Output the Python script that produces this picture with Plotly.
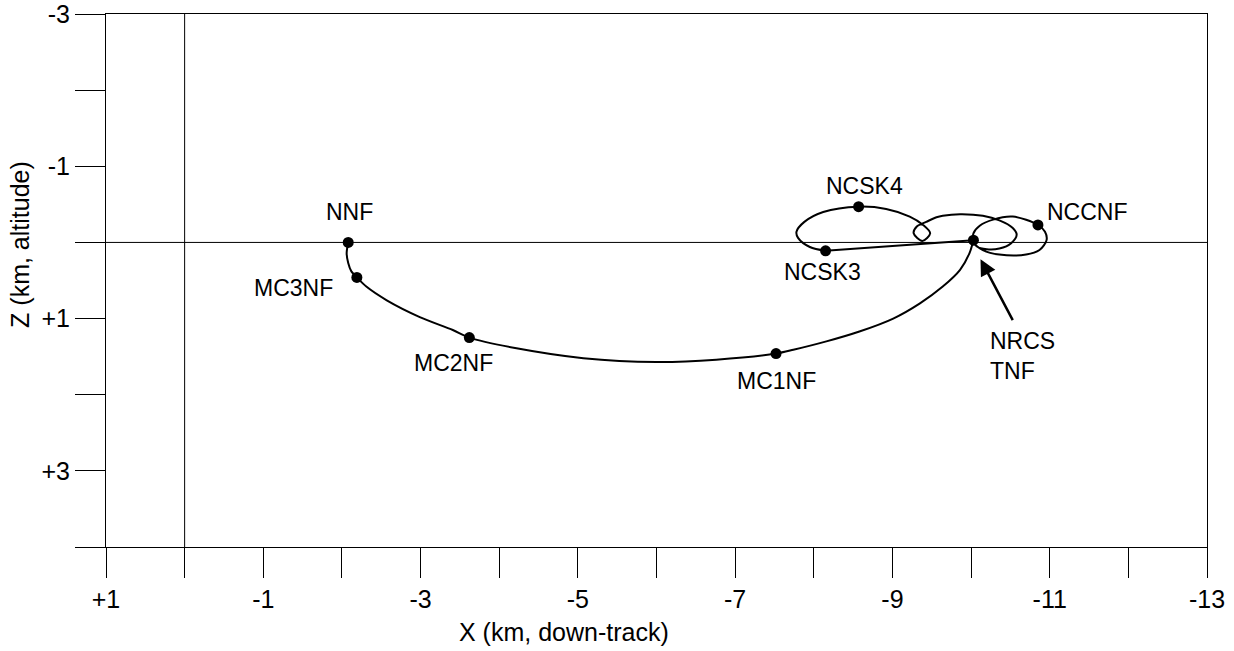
import plotly.graph_objects as go

# Named maneuver points (X km down-track, Z km altitude; +Z is down)
pt_names = ["NNF", "MC3NF", "MC2NF", "MC1NF", "TNF", "NCSK3", "NCSK4", "NCCNF"]
pt_x = [-2.08, -2.19, -3.62, -7.52, -10.03, -8.15, -8.57, -10.85]
pt_z = [0.0, 0.46, 1.25, 1.46, -0.03, 0.11, -0.47, -0.23]

# Transfer arc NNF -> TNF
arc_x = [-2.08, -2.06, -2.08, -2.12, -2.19, -2.31, -2.57, -2.99, -3.41, -3.62, -4.22, -5.07,
         -6.00, -6.76, -7.52, -7.74, -8.16, -8.58, -9.01, -9.35, -9.64, -9.86, -9.98, -10.03]
arc_z = [0.0, 0.14, 0.27, 0.38, 0.46, 0.58, 0.76, 0.98, 1.15, 1.25, 1.39, 1.52,
         1.57, 1.54, 1.46, 1.41, 1.30, 1.17, 1.00, 0.80, 0.58, 0.36, 0.14, -0.03]

# Straight leg TNF -> NCSK3
leg_x = [-10.03, -8.15]
leg_z = [-0.03, 0.11]

# Loops NCSK3 -> NCSK4 -> ... -> NCCNF -> TNF
loop_x = [-8.15, -7.95, -7.80, -7.78, -7.88, -8.12, -8.57, -8.92, -9.22, -9.39,
          -9.48, -9.38, -9.27, -9.31, -9.43, -9.56, -9.64, -9.86, -10.15, -10.36,
          -10.53, -10.58, -10.51, -10.36, -10.20, -10.07, -10.03, -10.03, -10.11, -10.28,
          -10.53, -10.85, -10.94, -10.96, -10.87, -10.70, -10.36, -10.15, -10.04, -10.03]
loop_z = [0.11, 0.06, -0.06, -0.14, -0.27, -0.40, -0.47, -0.44, -0.34, -0.23,
          -0.12, -0.02, -0.12, -0.21, -0.27, -0.33, -0.35, -0.37, -0.35, -0.29,
          -0.19, -0.10, 0.01, 0.08, 0.09, 0.05, -0.03, -0.12, -0.22, -0.30,
          -0.34, -0.23, -0.14, -0.03, 0.10, 0.16, 0.16, 0.10, 0.01, -0.03]

# Label positions
lbl_text = ["NNF", "MC3NF", "MC2NF", "MC1NF", "NCSK4", "NCSK3", "NCCNF"]
lbl_x = [-2.10, -1.39, -3.42, -7.52, -8.64, -8.11, -11.48]
lbl_z = [-0.40, 0.60, 1.58, 1.82, -0.74, 0.39, -0.40]

x_ticks = list(range(1, -14, -1))
x_ticktext = [("+%d" % v if v > 0 else "%d" % v) if v % 2 != 0 else "" for v in x_ticks]
y_ticks = list(range(-3, 5))
y_ticktext = [("+%d" % v if v > 0 else "%d" % v) if v % 2 != 0 else "" for v in y_ticks]

x_title = "X (km, down-track)"
y_title = "Z (km, altitude)"

FONT = "Liberation Sans, Arial, sans-serif"
LBL = 23
TICK = 25

fig = go.Figure()
line_style = dict(color="black", width=2)
fig.add_trace(go.Scatter(x=arc_x, y=arc_z, mode="lines",
                         line=dict(shape="spline", smoothing=0.8, **line_style),
                         hoverinfo="skip", showlegend=False))
fig.add_trace(go.Scatter(x=leg_x, y=leg_z, mode="lines", line=line_style,
                         hoverinfo="skip", showlegend=False))
fig.add_trace(go.Scatter(x=loop_x, y=loop_z, mode="lines",
                         line=dict(shape="spline", smoothing=0.9, **line_style),
                         hoverinfo="skip", showlegend=False))
fig.add_trace(go.Scatter(x=pt_x, y=pt_z, mode="markers", text=pt_names,
                         marker=dict(color="black", size=11), showlegend=False))

for t, x, z in zip(lbl_text, lbl_x, lbl_z):
    fig.add_annotation(x=x, y=z, text=t, showarrow=False,
                       font=dict(family=FONT, size=LBL, color="black"))

fig.add_annotation(x=-10.22, y=1.49, text="NRCS<br>TNF", showarrow=False, align="left",
                   xanchor="left", yanchor="middle",
                   font=dict(family=FONT, size=LBL, color="black"))
fig.add_annotation(x=-10.12, y=0.22, ax=-10.54, ay=1.04, axref="x", ayref="y",
                   text="", showarrow=True, arrowhead=2, arrowsize=1.3, arrowwidth=2.5,
                   arrowcolor="black")

# Axis titles
fig.add_annotation(xref="paper", yref="paper", x=0.416, y=-0.16, text=x_title,
                   xanchor="center", yanchor="middle",
                   showarrow=False, font=dict(family=FONT, size=TICK, color="black"))
fig.add_annotation(xref="paper", yref="paper", x=-0.078, y=0.567, text=y_title,
                   xanchor="center", yanchor="middle",
                   textangle=-90, showarrow=False,
                   font=dict(family=FONT, size=TICK, color="black"))

# Reference lines at X=0 and Z=0
fig.add_shape(type="line", xref="x", yref="paper", x0=0, x1=0, y0=0, y1=1,
              line=dict(color="black", width=1))
fig.add_shape(type="line", xref="paper", yref="y", x0=0, x1=1, y0=0, y1=0,
              line=dict(color="black", width=1))

fig.update_layout(
    width=1234, height=651,
    margin=dict(l=106, r=27, t=14, b=104),
    paper_bgcolor="white", plot_bgcolor="white",
    font=dict(family=FONT, size=TICK, color="black"),
    xaxis=dict(range=[1, -13], tickvals=x_ticks, ticktext=x_ticktext,
               ticks="outside", ticklen=30, tickcolor="black", tickwidth=1,
               showline=True, linecolor="black", linewidth=1, mirror=True,
               showgrid=False, zeroline=False, automargin=False,
               ticklabeloverflow="allow",
               tickfont=dict(family=FONT, size=TICK)),
    yaxis=dict(range=[4, -3], tickvals=y_ticks, ticktext=y_ticktext,
               ticks="outside", ticklen=30, tickcolor="black", tickwidth=1,
               showline=True, linecolor="black", linewidth=1, mirror=True,
               showgrid=False, zeroline=False, automargin=False,
               ticklabeloverflow="allow",
               tickfont=dict(family=FONT, size=TICK)),
)

fig.write_html("out.html", config={"displayModeBar": False},
               post_script="document.body.style.margin='0px';")
